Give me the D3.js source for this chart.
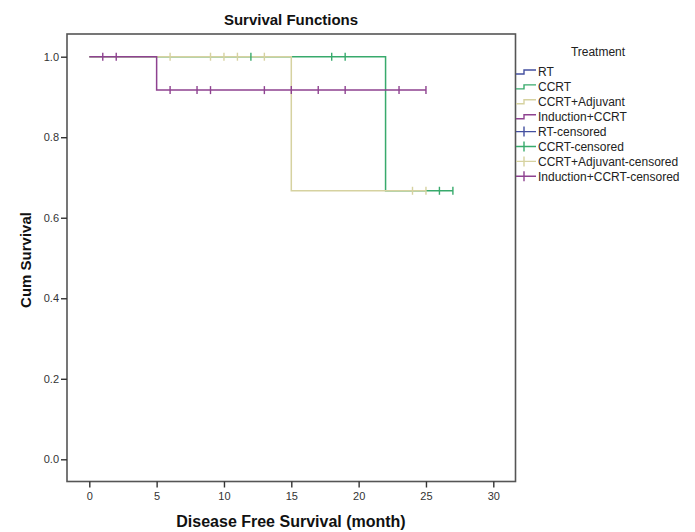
<!DOCTYPE html>
<html><head><meta charset="utf-8">
<script src="https://cdn.jsdelivr.net/npm/d3@7"></script>
<style>body{margin:0;background:#fff}svg{font-family:Arial,"Liberation Sans",sans-serif}</style>
</head><body><svg id="c" width="695" height="532"></svg>
<script>
const groups = ["RT", "CCRT", "CCRT+Adjuvant", "Induction+CCRT"];
const colors = ["#4450a0", "#38aa6c", "#d6d2a0", "#8e4290"];
// step curves: time of each step and survival after it (last point = end of follow-up)
const rtTime = [], rtSurv = [];
const ccrtTime = [0, 22, 27], ccrtSurv = [1.0, 0.667, 0.667];
const adjTime = [0, 15, 25], adjSurv = [1.0, 0.667, 0.667];
const indTime = [0, 5, 25], indSurv = [1.0, 0.917, 0.917];
// censored observations
const rtCensT = [], rtCensS = [];
const ccrtCensT = [12, 18, 19, 26, 27], ccrtCensS = [1, 1, 1, 0.667, 0.667];
const adjCensT = [6, 9, 10, 11, 13, 24, 25], adjCensS = [1, 1, 1, 1, 1, 0.667, 0.667];
const indCensT = [1, 2, 6, 8, 9, 13, 15, 17, 19, 23, 25], indCensS = [1, 1, 0.917, 0.917, 0.917, 0.917, 0.917, 0.917, 0.917, 0.917, 0.917];
const xTicks = [0, 5, 10, 15, 20, 25, 30];
const yTicks = [0.0, 0.2, 0.4, 0.6, 0.8, 1.0];
const legendLabels = ["RT", "CCRT", "CCRT+Adjuvant", "Induction+CCRT", "RT-censored", "CCRT-censored", "CCRT+Adjuvant-censored", "Induction+CCRT-censored"];

const curves = [[rtTime, rtSurv], [ccrtTime, ccrtSurv], [adjTime, adjSurv], [indTime, indSurv]];
const cens = [[rtCensT, rtCensS], [ccrtCensT, ccrtCensS], [adjCensT, adjCensS], [indCensT, indCensS]];

const svg = d3.select("#c");
const L = 67, R = 515.5, T = 34, B = 481.5;
const x = d3.scaleLinear().domain([0, 30]).range([89.3, 493.3]);
const y = d3.scaleLinear().domain([0, 1]).range([459.3, 56.7]);

// frame
svg.append("rect").attr("x", L).attr("y", T).attr("width", R - L).attr("height", B - T)
  .attr("fill", "none").attr("stroke", "#555").attr("stroke-width", 1.6);

// axes
const xa = svg.append("g").attr("transform", `translate(0,${B})`)
  .call(d3.axisBottom(x).tickValues(xTicks).tickFormat(d3.format("d")).tickSize(6).tickSizeOuter(0));
const ya = svg.append("g").attr("transform", `translate(${L},0)`)
  .call(d3.axisLeft(y).tickValues(yTicks).tickFormat(d3.format(".1f")).tickSize(6).tickSizeOuter(0));
[xa, ya].forEach(a => {
  a.select(".domain").remove();
  a.selectAll("line").attr("stroke", "#333").attr("stroke-width", 1.4);
  a.selectAll("text").attr("font-size", 11).attr("fill", "#333").attr("font-family", "Arial, 'Liberation Sans', sans-serif");
});
xa.selectAll("text").attr("dy", "0.71em").attr("y", 11);
ya.selectAll("text").attr("x", -8);

// step lines
const line = d3.line().x(d => x(d[0])).y(d => y(d[1])).curve(d3.curveStepAfter);
curves.forEach((c, gi) => {
  const pts = c[0].map((t, i) => [t, c[1][i]]);
  if (!pts.length) return;
  svg.append("path").attr("d", line(pts)).attr("fill", "none")
    .attr("stroke", colors[gi]).attr("stroke-width", 1.5);
});
// censor marks
cens.forEach((c, gi) => {
  svg.append("g").selectAll("line").data(c[0].map((t, i) => [t, c[1][i]])).join("line")
    .attr("x1", d => x(d[0])).attr("x2", d => x(d[0]))
    .attr("y1", d => y(d[1]) - 4).attr("y2", d => y(d[1]) + 4)
    .attr("stroke", colors[gi]).attr("stroke-width", 1.4);
});

// titles
svg.append("text").attr("x", 291).attr("y", 25).attr("text-anchor", "middle")
  .attr("font-size", 15).attr("font-weight", "bold").attr("fill", "#111").text("Survival Functions");
svg.append("text").attr("x", 291).attr("y", 527).attr("text-anchor", "middle")
  .attr("font-size", 16).attr("font-weight", "bold").attr("fill", "#111").text("Disease Free Survival (month)");
svg.append("text").attr("transform", "translate(31,260) rotate(-90)").attr("text-anchor", "middle")
  .attr("font-size", 15).attr("font-weight", "bold").attr("fill", "#111").text("Cum Survival");

// legend
const lg = svg.append("g");
lg.append("text").attr("x", 598).attr("y", 56).attr("text-anchor", "middle")
  .attr("font-size", 12).attr("fill", "#222").text("Treatment");
legendLabels.forEach((lab, i) => {
  const cy = 72 + i * 14.9;
  const col = colors[i % 4];
  if (i < 4) {
    lg.append("path").attr("d", `M516,${cy + 2}H524V${cy - 2}H536`).attr("fill", "none")
      .attr("stroke", col).attr("stroke-width", 1.4);
  } else {
    lg.append("path").attr("d", `M516,${cy}H536M524,${cy - 5}V${cy + 5}`).attr("fill", "none")
      .attr("stroke", col).attr("stroke-width", 1.4);
  }
  lg.append("text").attr("x", 538).attr("y", cy).attr("dy", "0.35em")
    .attr("font-size", 12).attr("fill", "#222").text(lab);
});
</script></body></html>
